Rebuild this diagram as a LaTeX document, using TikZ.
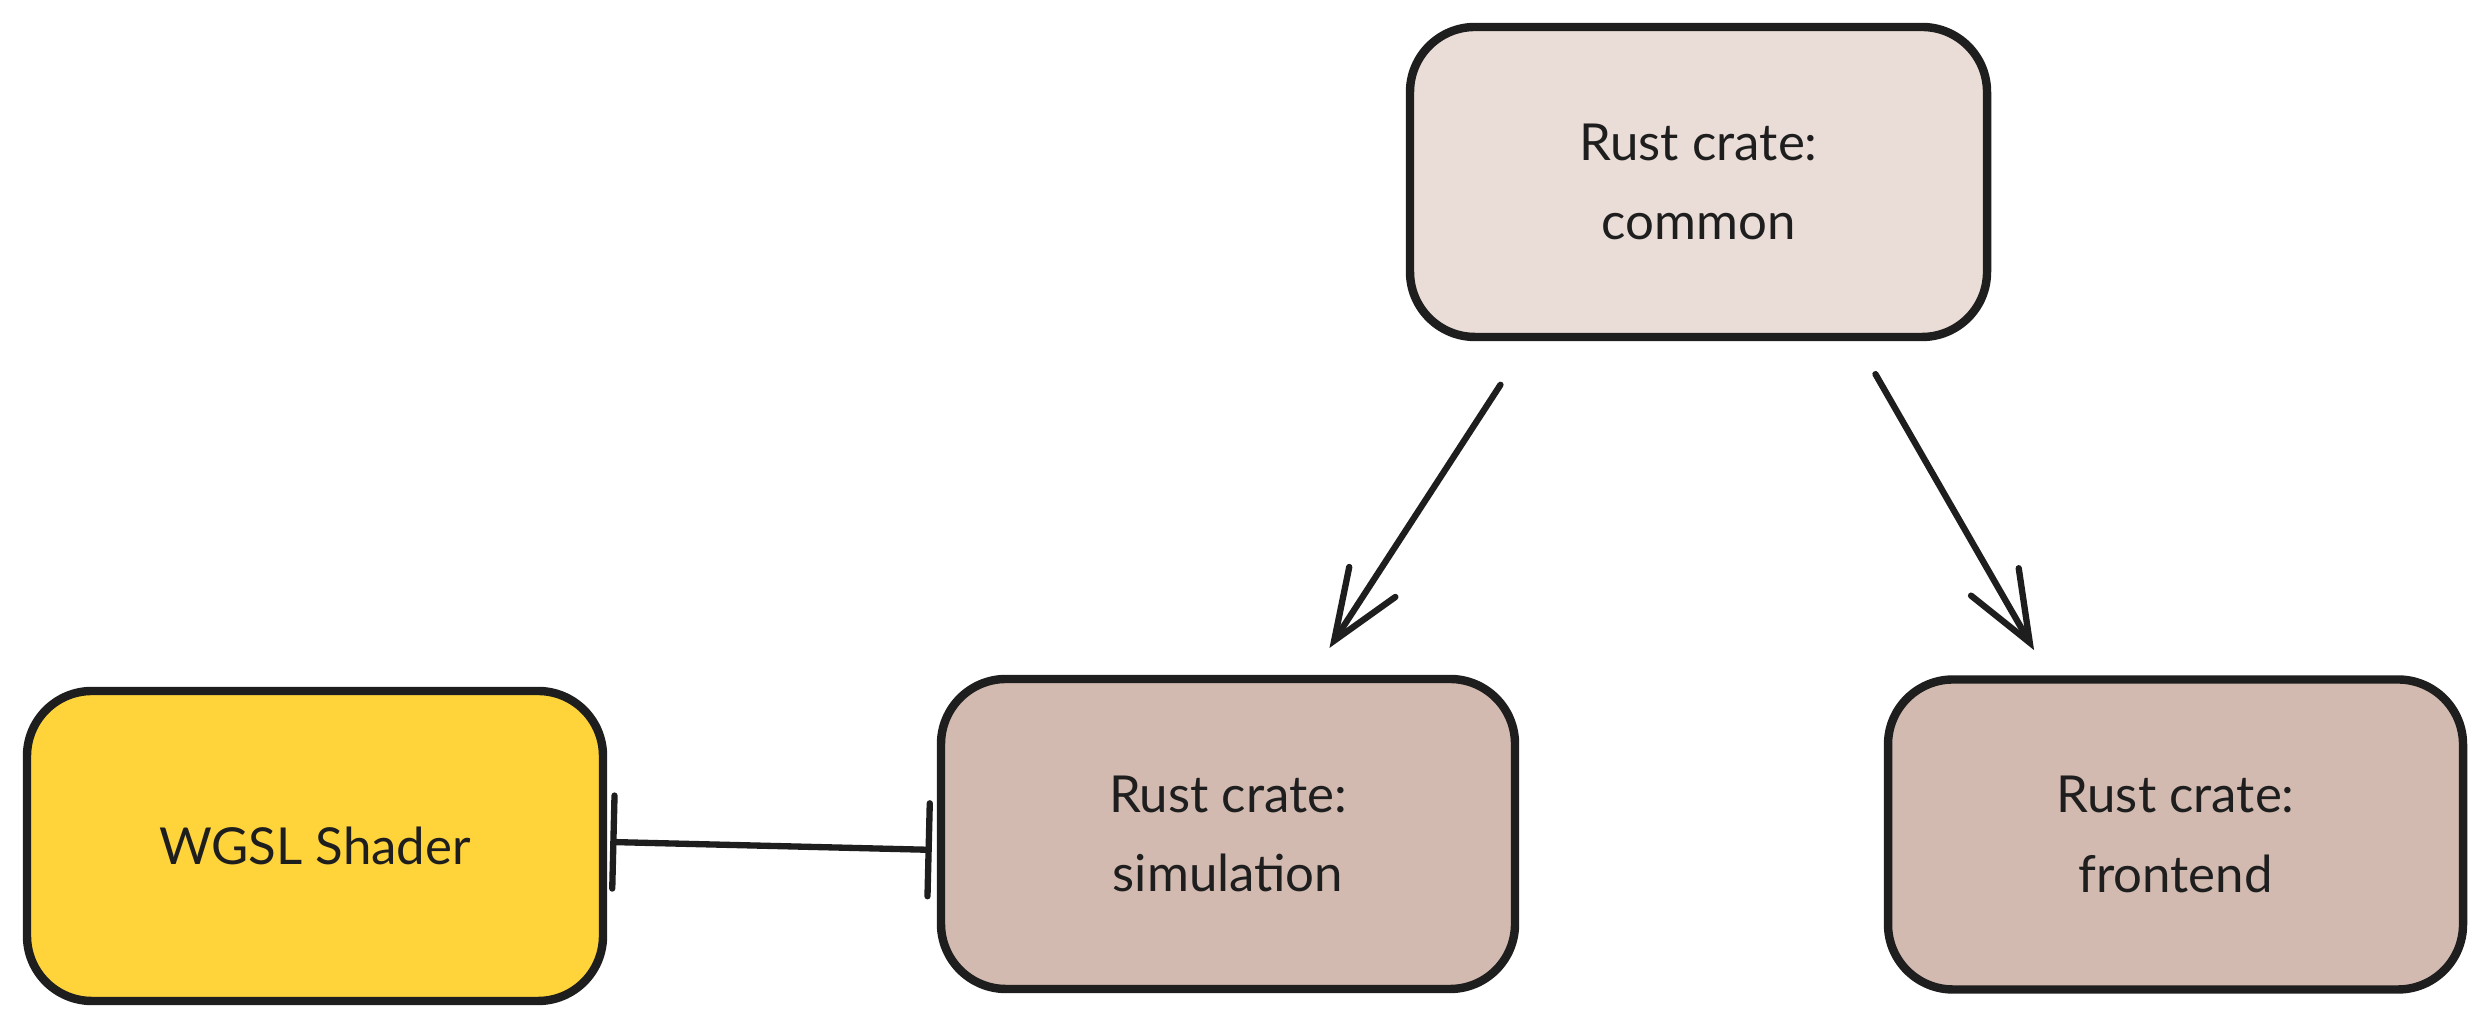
\documentclass[tikz,border=0pt]{standalone}
\usepackage{fontspec}
\setmainfont{Lato}
\usetikzlibrary{arrows.meta,positioning}
\definecolor{ink}{HTML}{1E1E1E}
\definecolor{crateA}{HTML}{EADDD7}
\definecolor{crateB}{HTML}{D2BAB0}
\definecolor{shader}{HTML}{FFD43B}

\begin{document}
\begin{tikzpicture}[box/.style={draw=ink,line width=2.4pt,rounded corners=0.65cm,minimum height=3.1cm,align=center,font=\fontsize{14.5}{22.7}\selectfont,text=ink},
  arr/.style={draw=ink,line width=1.8pt,line cap=round,-{Straight Barb[length=7mm,width=5.5mm,line cap=round]}}]
  \useasboundingbox (0,0) rectangle (24.92,10.29);
  \node[box,fill=crateA,minimum width=5.77cm] (com) at (16.985,8.47) {Rust crate:\\common};
  \node[box,fill=shader,minimum width=5.76cm] (wgsl) at (3.15,1.83) {WGSL Shader};
  \node[box,fill=crateB,minimum width=5.74cm] (sim) at (12.28,1.95) {Rust crate:\\simulation};
  \node[box,fill=crateB,minimum width=5.75cm] (fro) at (21.755,1.945) {Rust crate:\\frontend};

  \draw[arr,shorten <=0.52cm,shorten >=0.32cm] ([xshift=1.23cm]com.south west) -- ([xshift=0.84cm]sim.north);
  \draw[arr,shorten <=0.38cm,shorten >=0.29cm] ([xshift=1.58cm]com.south) -- ([xshift=-1.27cm]fro.north);
  \draw[draw=ink,line width=1.8pt,{Bar[width=9.3mm,line cap=round]}-{Bar[width=9.3mm,line cap=round]},shorten >=0.05cm] ([shift={(0.03cm,0.04cm)}]wgsl.east) -- ([yshift=-0.16cm]sim.west);
\end{tikzpicture}
\end{document}
